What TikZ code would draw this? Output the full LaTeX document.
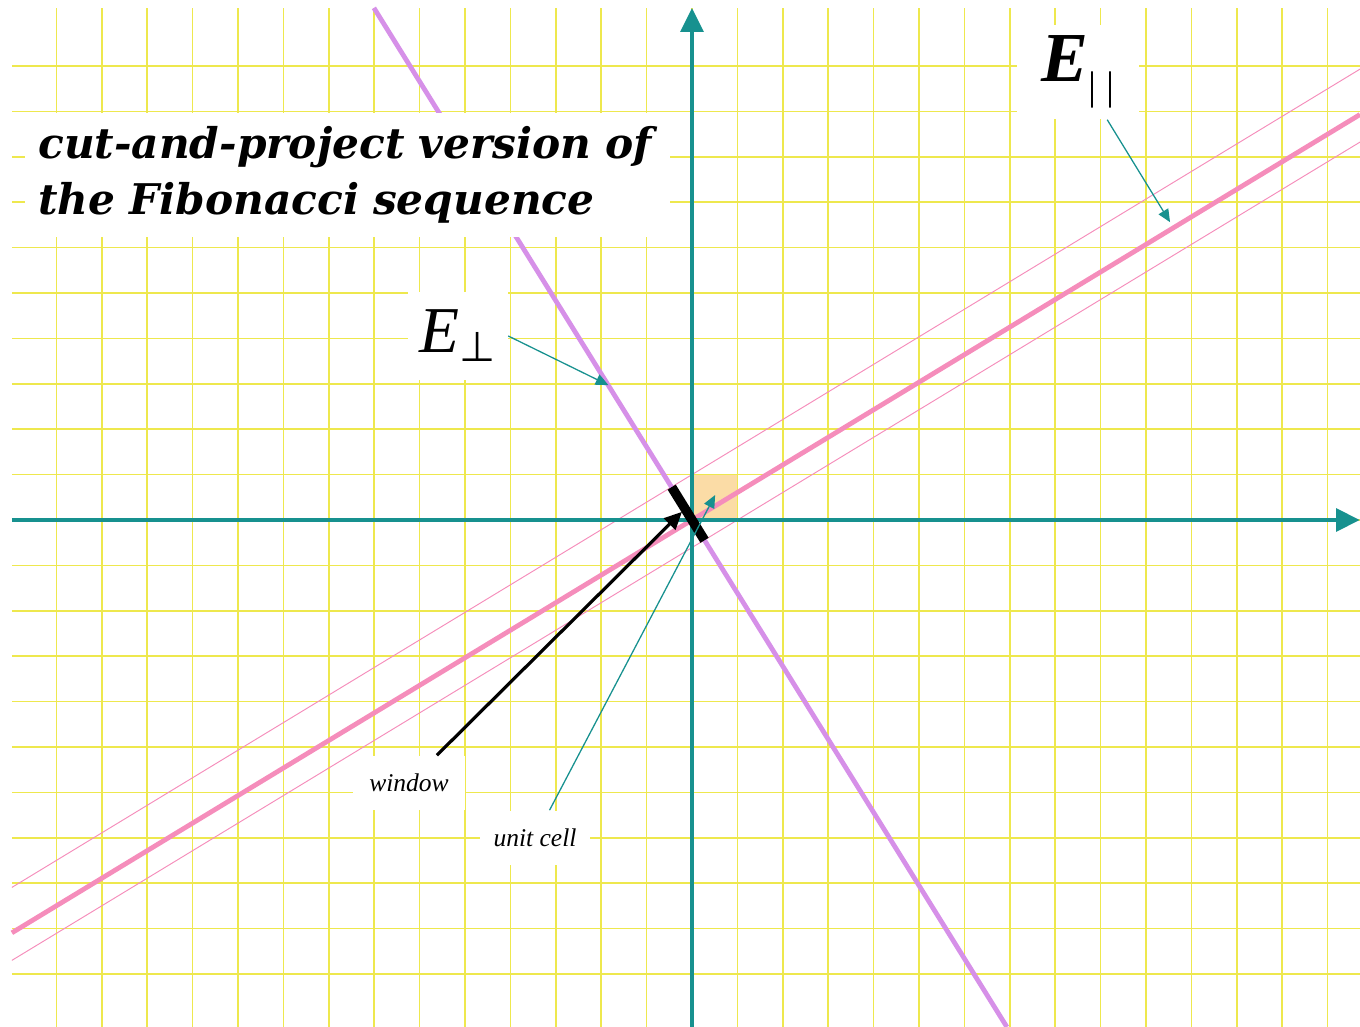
\documentclass[tikz,border=0pt]{standalone}
\usepackage{fontspec}
\setmainfont{Liberation Serif}
\newfontfamily\titlefont{DejaVu Serif}
\newfontfamily\symfont{DejaVu Sans}
\usepackage{tikz}
\usetikzlibrary{arrows.meta}
\usepackage{xcolor}
\definecolor{gridyellow}{HTML}{EEE84E}
\definecolor{axisteal}{HTML}{17918F}
\definecolor{parpink}{HTML}{F58DBB}
\definecolor{perpviolet}{HTML}{D690E8}
\definecolor{cellorange}{HTML}{FBDCA6}

\begin{document}
\begin{tikzpicture}[
    gridline/.style={gridyellow, line width=1.1pt},
    axis/.style={axisteal, line width=3pt, -{Triangle[length=15pt, width=14pt]}},
    parline/.style={parpink, line width=3pt},
    stripline/.style={parpink, line width=0.6pt},
    perpline/.style={perpviolet, line width=3pt},
    labbox/.style={fill=white, inner sep=0pt},
    labarrow/.style={axisteal, line width=0.8pt, -{Triangle[length=8pt, width=7pt]}},
]
\useasboundingbox (-15.242,-11.167) rectangle (14.714,11.454);

% Grid and unit cell
\fill[cellorange] (0,0) rectangle (1,1);
\foreach \i in {-14,...,14}
    \draw[gridline] (\i,-11.167) -- (\i,11.28);
\foreach \j in {-10,...,10}
    \draw[gridline] (-14.98,\j) -- (14.714,\j);

% E_par with the strip, and E_perp
\draw[stripline] (-14.98,-8.093) -- (14.714,9.931);
\draw[stripline] (-14.98,-9.700) -- (14.714,8.324);
\draw[parline] (-14.98,-9.093) -- (14.714,8.931);
\draw[perpline] (-7.006,11.28) -- (6.936,-11.167);

% Axes
\draw[axis] (0,-11.167) -- (0,11.28);
\draw[axis] (-14.98,0) -- (14.714,0);

% Title
\node[labbox, anchor=west, minimum width=14.207cm, minimum height=2.731cm,
      text width=14.207cm-0.572cm, inner xsep=0.286cm, align=left,
      font=\titlefont\bfseries\itshape\fontsize{26.5}{35}\selectfont] (title) at (-14.692,7.599)
    {cut-and-project version of\\the Fibonacci sequence};

% Labels
\node[labbox, minimum width=2.2cm, minimum height=1.94cm, font=\fontsize{41}{41}\selectfont] (lperp) at (-5.154,4.053)
    {\textit{E}\raisebox{-0.3ex}{\symfont\fontsize{26}{26}\selectfont ⊥}};
\node[labbox, minimum width=2.69cm, minimum height=2.09cm, font=\fontsize{44}{44}\selectfont] (lpar) at (8.502,9.868)
    {\textbf{\textit{E}}\raisebox{-0.55ex}{\fontsize{25}{25}\selectfont | |}};
\node[labbox, minimum width=2.47cm, minimum height=1.21cm, font=\itshape\fontsize{16}{16}\selectfont] (lwin) at (-6.233,-5.793) {window};
\node[labbox, minimum width=2.42cm, minimum height=1.21cm, font=\itshape\fontsize{16}{16}\selectfont] (lcell) at (-3.458,-7.004) {unit cell};

% Window
\coordinate (wtop) at (-0.447,0.724);
\coordinate (wbot) at (0.277,-0.447);
\draw[black, line width=6pt] (wtop) -- (wbot);

% Pointers
\coordinate (pe) at (-1.84,2.97);
\coordinate (pa) at (10.53,6.56);
\coordinate (wtip) at (-0.22,0.18);
\coordinate (ctip) at (0.51,0.55);
\draw[labarrow] (lperp.east) -- (pe);
\draw[labarrow] (lpar) -- (pa);
\draw[labarrow] (lcell) -- (ctip);
\draw[black, line width=2pt, -{Triangle[length=11pt, width=10pt]}] (lwin) -- (wtip);

\end{tikzpicture}
\end{document}
